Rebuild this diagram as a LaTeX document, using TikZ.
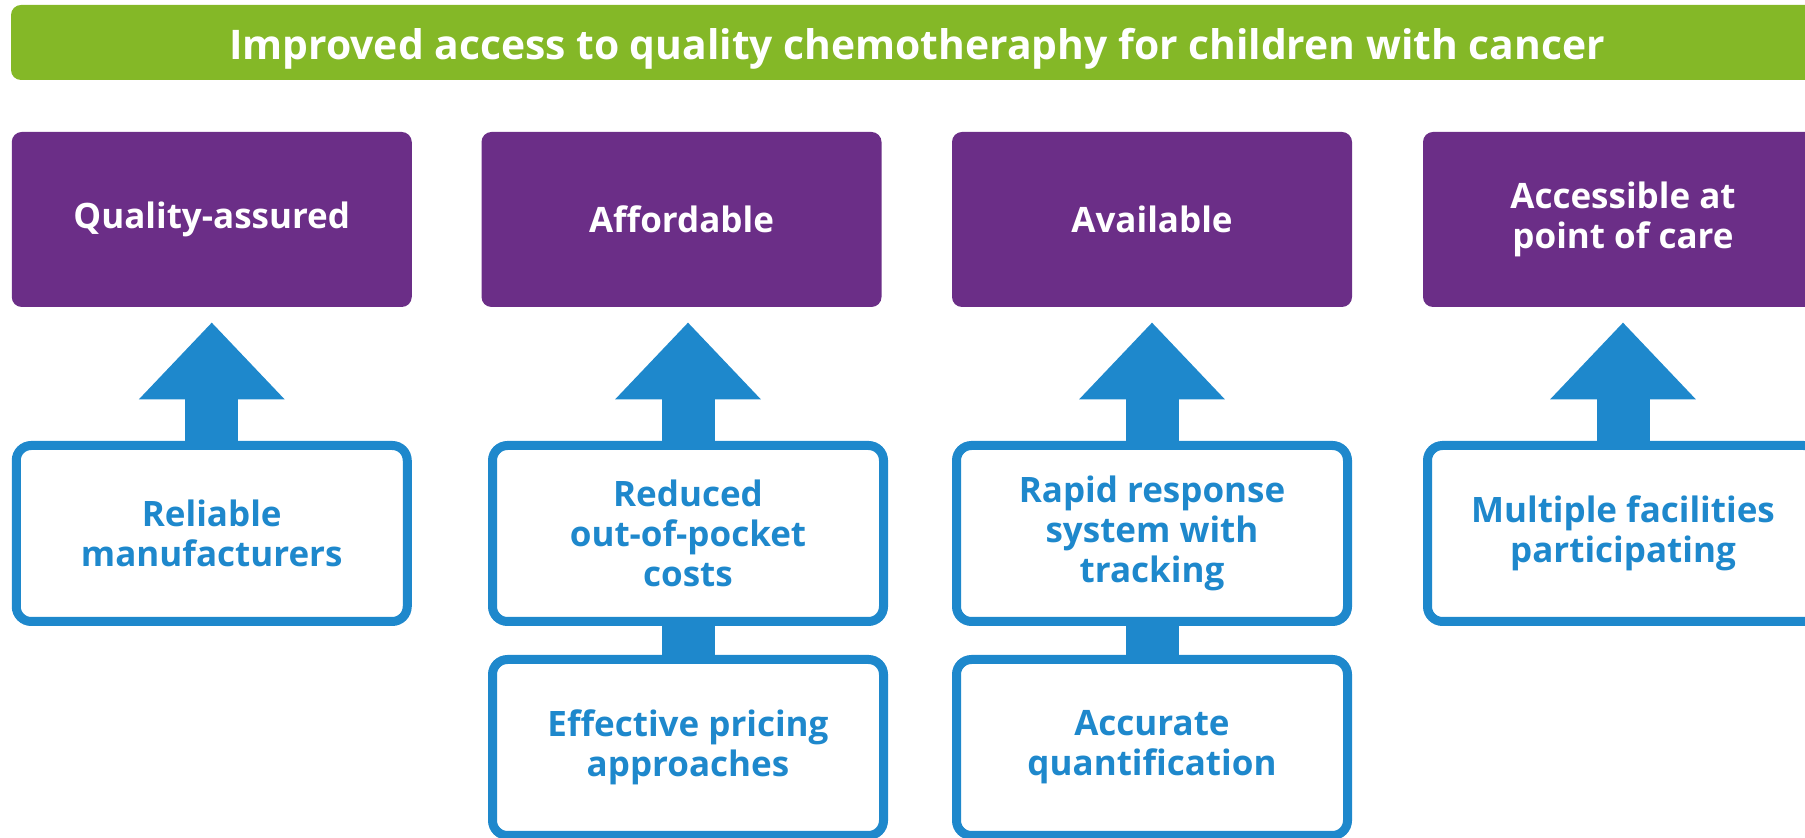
\documentclass[tikz,border=0pt]{standalone}
\usepackage{fontspec}
\setmainfont{Open Sans}
\usepackage{xcolor}
\usetikzlibrary{calc, arrows.meta}

\definecolor{barGreen}{RGB}{132,184,39}
\definecolor{goalPurple}{RGB}{107,46,135}
\definecolor{stepBlue}{RGB}{30,136,204}

\begin{document}
\begin{tikzpicture}[x=0.5pt, y=-0.5pt,
        % Define the styles for the boxes and arrows
        bar/.style={fill=barGreen, text=white, rounded corners=5pt,
            minimum width=906pt, minimum height=37.5pt, inner sep=0pt,
            text height=17pt, text depth=0pt,
            font=\bfseries\fontsize{20.4}{22}\selectfont},
        outcome/.style={fill=goalPurple, text=white, rounded corners=5pt,
            minimum width=200pt, minimum height=87.5pt, align=center,
            font=\bfseries\fontsize{17.5}{20}\selectfont},
        lever/.style={draw=stepBlue, fill=white, line width=4.5pt, rounded corners=7.5pt,
            minimum width=195.5pt, minimum height=88pt, align=center, text=stepBlue,
            font=\bfseries\fontsize{17.5}{20}\selectfont},
        push/.style={stepBlue, line width=26.5pt, -{Triangle[width=70.5pt, length=38.5pt]}},
        link/.style={stepBlue, line width=26.5pt}]

        \useasboundingbox (0,0) rectangle (1805,838);

        % 1. The goal bar across the top
        \node[bar] (goal) at (917, 42.5) {Improved access to quality chemotheraphy for children with cancer};

        % 2. The four outcome boxes
        \node[outcome] (quality) at (211.75, 219.5) {Quality-assured};
        \node[outcome] (afford) at (681.5, 219.5) {Affordable};
        \node[outcome] (avail) at (1152, 219.5) {Available};
        \node[outcome] (access) at (1623, 219.5) {Accessible at\\point of care};

        % 3. The boxes that lead to them
        \node[lever] (makers) at (211.75, 533.5) {Reliable\\manufacturers};
        \node[lever] (costs) at (688, 533.5) {Reduced\\out-of-pocket\\costs};
        \node[lever] (rapid) at (1152, 533.5) {Rapid response\\system with\\tracking};
        \node[lever] (sites) at (1623, 533.5) {Multiple facilities\\participating};
        \node[lever] (pricing) at (688, 747.5) {Effective pricing\\approaches};
        \node[lever] (quant) at (1152, 747.5) {Accurate\\quantification};

        % 4. Block arrows up to the outcomes
        \foreach \from/\to in {makers/quality, costs/afford, rapid/avail, sites/access}
            \draw[push] (\from.north) -- ($(\from.north |- \to.south)+(0,15)$);

        % 5. Short links between the stacked boxes
        \foreach \from/\to in {pricing/costs, quant/rapid}
            \draw[link] (\from.north) -- (\to.south);
    \end{tikzpicture}
\end{document}
